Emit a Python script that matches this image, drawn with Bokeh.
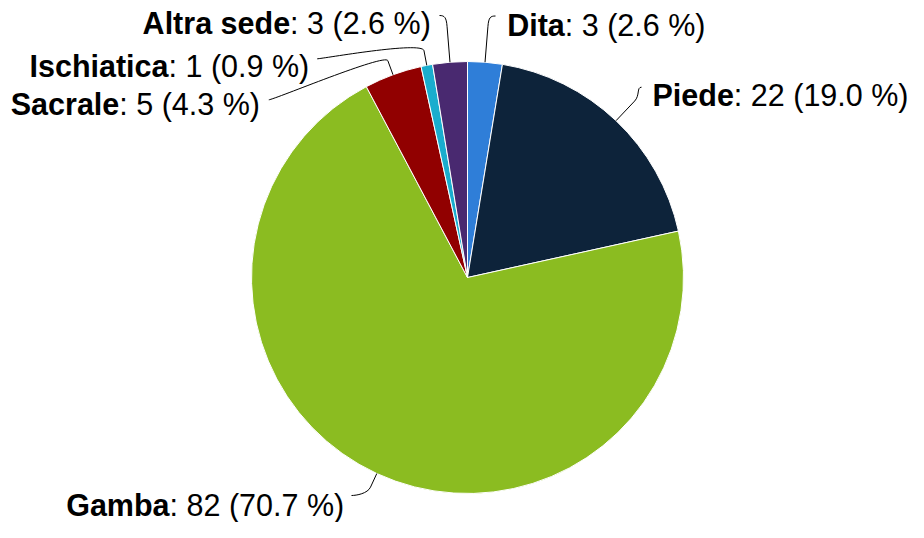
import math
from bokeh.plotting import figure
from bokeh.models import Range1d, ColumnDataSource
from bokeh.embed import file_html
from bokeh.resources import INLINE
from bokeh.core.properties import value

# ---- data ----
categories = ["Dita", "Piede", "Gamba", "Sacrale", "Ischiatica", "Altra sede"]
counts = [3, 22, 82, 5, 1, 3]
colors = ["#2f7ed8", "#0d233a", "#8bbc21", "#910000", "#1aadce", "#492970"]

# ---- layout (picture pixel coordinates) ----
W, H = 908, 522
CX, CY, R = 467, 277, 216
FONT = "Liberation Sans"
FS = 30.5
TEXT_DY = 10.5  # compensation for renderer baseline offset
label_end = [(495, 15.5), (641, 86.7), (351, 495), (268.3, 99.3), (316.7, 58.3), (439, 15)]
elbow = [36, 27, 15, 15, 15, 36]
hook = [9, 8, 7, 8, 10, 9]
label_anchor = [(506.7, 35, "left"), (652, 105, "left"), (343.7, 515, "right"),
                (259.5, 114, "right"), (308.7, 76, "right"), (430.3, 33.3, "right")]

REG = {" ": 278, "%": 889, "(": 333, ")": 333, ".": 278, ":": 278}
for d in "0123456789":
    REG[d] = 556
BOLD = {" ": 278, "A": 722, "D": 722, "G": 778, "I": 278, "P": 667, "S": 667,
        "a": 556, "b": 611, "c": 556, "d": 611, "e": 556, "h": 611, "i": 278,
        "l": 278, "m": 889, "o": 611, "q": 611, "r": 389, "s": 556, "t": 333}


def tw(s, table):
    return sum(table.get(c, 556) for c in s) / 1000.0 * FS


def Y(sy):
    return H - sy


total = sum(counts)
starts, ends, mids = [], [], []
acc = 0
for c in counts:
    a0 = acc / total * 2 * math.pi
    acc += c
    a1 = acc / total * 2 * math.pi
    starts.append(math.pi / 2 - a0)
    ends.append(math.pi / 2 - a1)
    mids.append((a0 + a1) / 2)

p = figure(width=W, height=H, output_backend="svg", toolbar_location=None,
           x_range=Range1d(0, W), y_range=Range1d(0, H),
           x_axis_location=None, y_axis_location=None, min_border=0,
           background_fill_color="white", border_fill_color="white")
p.outline_line_color = None
p.xgrid.visible = False
p.ygrid.visible = False

src = ColumnDataSource(dict(x=[CX] * len(counts), y=[Y(CY)] * len(counts),
                            start=starts, end=ends, color=colors))
p.wedge(x="x", y="y", radius=R, start_angle="start", end_angle="end",
        direction="clock", fill_color="color", line_color="white",
        line_width=1, source=src)

# connectors
sx0, sy0, sx1, sy1 = [], [], [], []
bx0, by0, bx1, by1, bcx0, bcy0, bcx1, bcy1 = [], [], [], [], [], [], [], []
for i, th in enumerate(mids):
    ux, uy = math.sin(th), -math.cos(th)
    ax, ay = CX + R * ux, CY + R * uy
    bx, by = ax + elbow[i] * ux, ay + elbow[i] * uy
    ex, ey = label_end[i]
    side = 1 if label_anchor[i][2] == "left" else -1
    sx0.append(ax); sy0.append(Y(ay)); sx1.append(bx); sy1.append(Y(by))
    bx0.append(ex); by0.append(Y(ey)); bx1.append(bx); by1.append(Y(by))
    bcx0.append(ex - 5 * side); bcy0.append(Y(ey))
    bcx1.append(bx + hook[i] * ux); bcy1.append(Y(by + hook[i] * uy))

p.segment(x0=sx0, y0=sy0, x1=sx1, y1=sy1, line_color="#000000", line_width=1)
p.bezier(x0=bx0, y0=by0, x1=bx1, y1=by1, cx0=bcx0, cy0=bcy0, cx1=bcx1, cy1=bcy1,
         line_color="#000000", line_width=1)

# labels
bold_x, bold_y, bold_t, bold_a = [], [], [], []
reg_x, reg_y, reg_t, reg_a = [], [], [], []
for i, cat in enumerate(categories):
    pct = counts[i] / total * 100
    rest = ": %d (%.1f %%)" % (counts[i], pct)
    x, base, align = label_anchor[i]
    if align == "left":
        bold_x.append(x); reg_x.append(x + tw(cat, BOLD))
        bold_a.append("left"); reg_a.append("left")
    else:
        reg_x.append(x); bold_x.append(x - tw(rest, REG))
        bold_a.append("right"); reg_a.append("right")
    yb = Y(base - TEXT_DY)
    bold_y.append(yb); reg_y.append(yb)
    bold_t.append(cat); reg_t.append(rest)

p.text(x=bold_x, y=bold_y, text=bold_t, text_align=bold_a,
       text_baseline="alphabetic", text_font=value(FONT), text_font_style="bold",
       text_font_size="%.1fpx" % FS, text_color="#000000")
p.text(x=reg_x, y=reg_y, text=reg_t, text_align=reg_a,
       text_baseline="alphabetic", text_font=value(FONT), text_font_style="normal",
       text_font_size="%.1fpx" % FS, text_color="#000000")

open("out.html", "w").write(file_html(p, INLINE))
